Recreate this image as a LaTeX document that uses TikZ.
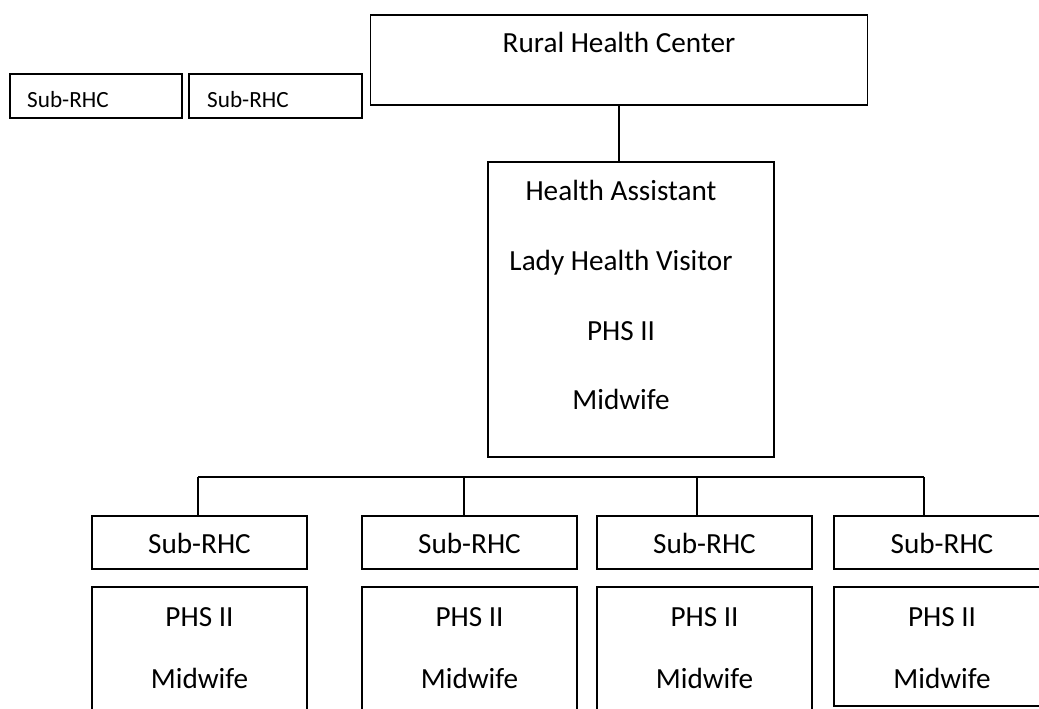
\documentclass[tikz,border=0pt]{standalone}
\usepackage{fontspec}
\setmainfont{Carlito}
\tikzset{
  box/.style={draw,line width=1.7pt,inner sep=0pt},
  sidebox/.style={draw,line width=1.2pt,inner sep=0pt},
  lbl/.style={anchor=base,inner sep=0pt,font=\fontsize{29.2}{34}\selectfont},
  sidelbl/.style={anchor=base west,inner sep=0pt,font=\fontsize{23.2}{28}\selectfont}
}
\begin{document}
\begin{tikzpicture}[x=1pt,y=-1pt]
      \useasboundingbox (0,0) rectangle (1039,709);
      \clip (0,0) rectangle (1039,709);
      \node[box,minimum width=497pt,minimum height=90pt] (rhc) at (619,60) {};
      \node[box,minimum width=286pt,minimum height=295pt] (staff) at (631,309.5) {};
      \node[sidebox,minimum width=172pt,minimum height=44pt] (side1) at (96,96) {};
      \node[sidebox,minimum width=173pt,minimum height=44pt] (side2) at (275.5,96) {};
      \node[box,minimum width=215pt,minimum height=53pt] (sub1) at (199.5,542.5) {};
      \node[box,minimum width=215pt,minimum height=53pt] (sub2) at (469.5,542.5) {};
      \node[box,minimum width=215pt,minimum height=53pt] (sub3) at (704.5,542.5) {};
      \node[box,minimum width=216pt,minimum height=53pt] (sub4) at (942,542.5) {};
      \node[box,minimum width=215pt,minimum height=143pt] (crew1) at (199.5,658.5) {};
      \node[box,minimum width=215pt,minimum height=143pt] (crew2) at (469.5,658.5) {};
      \node[box,minimum width=215pt,minimum height=143pt] (crew3) at (704.5,658.5) {};
      \node[box,minimum width=216pt,minimum height=119pt] (crew4) at (942,646.5) {};
      \node[lbl] (rhctext) at (619,53) {Rural Health Center};
      \node[lbl] (staff1) at (621,200) {Health Assistant};
      \node[lbl] (staff2) at (621,270) {Lady Health Visitor};
      \node[lbl] (staff3) at (621,340) {PHS II};
      \node[lbl] (staff4) at (621,409) {Midwife};
      \node[sidelbl] (side1text) at (27,107) {Sub-RHC};
      \node[sidelbl] (side2text) at (207,107) {Sub-RHC};
      \node[lbl] (sub1text) at (199.5,553) {Sub-RHC};
      \node[lbl] (sub2text) at (469.5,553) {Sub-RHC};
      \node[lbl] (sub3text) at (704.5,553) {Sub-RHC};
      \node[lbl] (sub4text) at (942,553) {Sub-RHC};
      \node[lbl] (crew1a) at (199.5,626) {PHS II};
      \node[lbl] (crew1b) at (199.5,688) {Midwife};
      \node[lbl] (crew2a) at (469.5,626) {PHS II};
      \node[lbl] (crew2b) at (469.5,688) {Midwife};
      \node[lbl] (crew3a) at (704.5,626) {PHS II};
      \node[lbl] (crew3b) at (704.5,688) {Midwife};
      \node[lbl] (crew4a) at (942,626) {PHS II};
      \node[lbl] (crew4b) at (942,688) {Midwife};
      \coordinate (bus1) at (198,477);
      \coordinate (bus2) at (464,477);
      \coordinate (bus3) at (697,477);
      \coordinate (bus4) at (924,477);
      \begin{scope}[line width=1.7pt]
        \draw (rhc.south) to (rhc.south |- staff.north);
        \draw (bus1) to (bus4);
        \draw (bus1) to (bus1 |- sub1.north);
        \draw (bus2) to (bus2 |- sub2.north);
        \draw (bus3) to (bus3 |- sub3.north);
        \draw (bus4) to (bus4 |- sub4.north);
      \end{scope}
    \end{tikzpicture}
\end{document}
